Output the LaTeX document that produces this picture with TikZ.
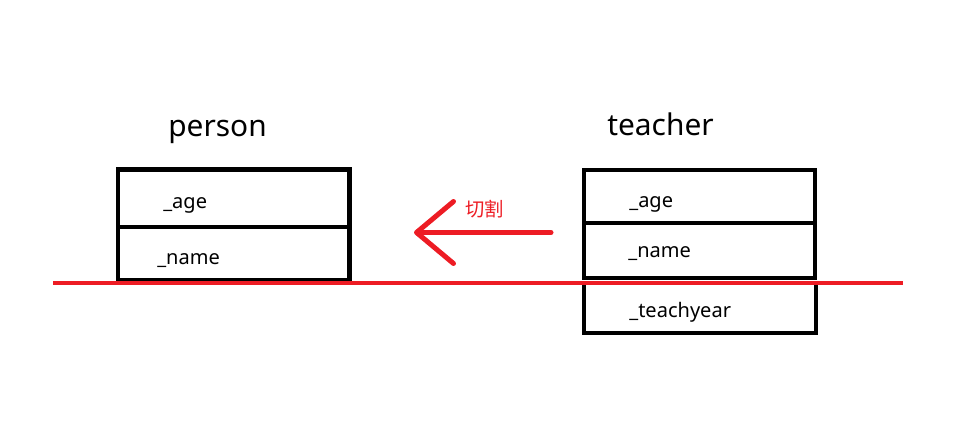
\documentclass[tikz,border=0pt]{standalone}
\usepackage{fontspec}
\setmainfont{Noto Sans}
\newfontfamily\cjk{Noto Sans CJK SC}
\usepackage{tikz}
\usetikzlibrary{positioning,arrows.meta,calc}
\definecolor{cutred}{HTML}{ED1C24}

\begin{document}
\begin{tikzpicture}[x=0.02cm, y=-0.02cm,
    field/.style={draw, line width=0.09cm, minimum width=4.63cm, inner sep=0pt},
    title/.style={font=\fontsize{17}{20}\selectfont, anchor=base west, inner sep=0pt},
    member/.style={font=\fontsize{11.4}{13}\selectfont, anchor=base west, inner sep=0pt},
    cutline/.style={cutred, line width=0.095cm},
    cutarrow/.style={cutred, line width=0.1cm, line cap=round,
                     -{Straight Barb[length=0.74cm, width=1.24cm, round]}}
  ]
    \useasboundingbox (0,0) rectangle (974,425);

    % Left: person
    \node[title] (person) at (168,137) {person};
    \node[field, minimum height=1.15cm] (p-age) at (233.75,198.25) {};
    \node[field, minimum height=1.06cm] (p-name) at (233.75,253.5) {};
    \node[member] (p-age-txt) at (163,208.5) {\_age};
    \node[member] (p-name-txt) at (157,264.5) {\_name};

    % Right: teacher
    \node[title] (teacher) at (607,135.5) {teacher};
    \node[field, line width=0.08cm, minimum height=1.06cm] (t-age) at (699.5,196.5) {};
    \node[field, line width=0.08cm, minimum height=1.1cm] (t-name) at (699.5,250.5) {};
    \node[field, line width=0.08cm, minimum height=1.0cm] (t-year) at (700,308) {};
    \node[member] (t-age-txt) at (629,208) {\_age};
    \node[member] (t-name-txt) at (628,258) {\_name};
    \node[member] (t-year-txt) at (629,318) {\_teachyear};

    % Cut line and arrow
    \coordinate (cut-west) at (53,283);
    \coordinate (cut-east) at (903,283);
    \draw[cutline] (cut-west) -- (cut-east);

    \coordinate (cut-from) at (551,232.5);
    \coordinate (cut-to) at (414,232.5);
    \draw[cutarrow] (cut-from) -- (cut-to);
    \node[font=\cjk\fontsize{11}{13}\selectfont, text=cutred, anchor=west, inner sep=0pt] (cut-label) at (465,209.5) {切割};
  \end{tikzpicture}
\end{document}
